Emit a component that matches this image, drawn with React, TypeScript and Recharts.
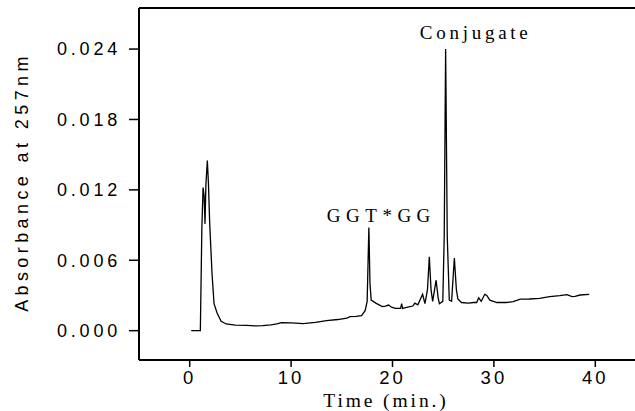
import React from 'react';
import { LineChart, Line, XAxis, YAxis, ReferenceLine, ReferenceDot } from 'recharts';

// retention time (min) and absorbance
const times = [
  0.15, 1.05, 1.2, 1.32, 1.42, 1.51, 1.6, 1.74, 1.85, 1.97, 2.2, 2.4, 2.7, 3.1, 3.6, 4.5,
  5.6, 6.5, 7.2, 8.0, 8.6, 9.05, 10.0, 11.2, 12.4, 13.5, 14.6, 15.5, 15.8, 16.4, 16.95,
  17.3, 17.5, 17.67, 17.78, 17.9, 18.4, 19.0, 19.3, 19.6, 19.9, 20.3, 20.8, 20.9, 21.0,
  21.5, 22.0, 22.2, 22.5, 22.97, 23.2, 23.45, 23.63, 23.8, 23.96, 24.3, 24.5, 24.63,
  24.96, 25.1, 25.24, 25.4, 25.6, 25.83, 26.1, 26.3, 26.45, 26.8, 27.5, 28.0, 28.3, 28.5,
  28.75, 29.1, 29.3, 29.6, 30.3, 31.2, 31.9, 32.6, 33.5, 34.5, 35.5, 36.5, 37.2, 37.7,
  38.0, 38.5, 39.4,
];
const absorbance = [
  0, 0, 0.0088, 0.0122, 0.0115, 0.0091, 0.0125, 0.0145, 0.0125, 0.0092, 0.0049, 0.0023,
  0.0015, 0.0008, 0.00057, 0.00048, 0.00045, 0.0004, 0.00043, 0.0005, 0.00057, 0.00068,
  0.00066, 0.0006, 0.0007, 0.00085, 0.00095, 0.00106, 0.0012, 0.00122, 0.00128, 0.0017,
  0.0025, 0.0088, 0.004, 0.0026, 0.00233, 0.00205, 0.0021, 0.00218, 0.002, 0.0019, 0.0019,
  0.0023, 0.0019, 0.002, 0.0021, 0.00235, 0.0022, 0.0031, 0.0023, 0.0035, 0.0063, 0.0035,
  0.0025, 0.0043, 0.0028, 0.0023, 0.0025, 0.008, 0.024, 0.008, 0.0026, 0.0025, 0.0062,
  0.0035, 0.0027, 0.0024, 0.00235, 0.0024, 0.0024, 0.0028, 0.0025, 0.0031, 0.003, 0.0026,
  0.0024, 0.0024, 0.00247, 0.00268, 0.0027, 0.00276, 0.0029, 0.00298, 0.00307, 0.0029,
  0.00293, 0.00304, 0.0031,
];

const xTicks = [0, 10, 20, 30, 40];
const yTicks = [0, 0.006, 0.012, 0.018, 0.024];

const peakLabels = [
  { t: 18.9, a: 0.00926, text: 'GGT*GG', spacing: 5.5 },
  { t: 28.2, a: 0.02486, text: 'Conjugate', spacing: 3.75 },
];

const data = times.map((t, i) => ({ t, a: absorbance[i] }));

const serif = '"Liberation Serif", "Times New Roman", serif';
const sans = '"Liberation Sans", Arial, sans-serif';

const YTitle = () => (
  <text
    x={28}
    y={182}
    transform="rotate(-90 28 182)"
    textAnchor="middle"
    fontFamily={sans}
    fontSize={18}
    letterSpacing={4.4}
    fill="#000"
  >
    Absorbance at 257nm
  </text>
);

const XTitle = () => (
  <text x={386} y={407} textAnchor="middle" fontFamily={serif} fontSize={19.5} letterSpacing={2.9} fill="#000">
    Time (min.)
  </text>
);

export default function App() {
  return (
    <div style={{ position: 'absolute', left: 0, top: 0, width: 635, height: 411, overflow: 'hidden', background: '#fff' }}>
      <LineChart width={646} height={411} data={data} margin={{ top: 8, right: 0, bottom: 0, left: 0 }}>
        <XAxis
          dataKey="t"
          type="number"
          domain={[-5, 45]}
          ticks={xTicks}
          allowDataOverflow
          height={51}
          tickSize={7}
          tickMargin={4}
          axisLine={{ stroke: '#000', strokeWidth: 2 }}
          tickLine={{ stroke: '#000', strokeWidth: 1.5 }}
          tick={{ fill: '#000', fontSize: 18.5, fontFamily: sans, letterSpacing: 3 }}
          label={<XTitle />}
        />
        <YAxis
          type="number"
          domain={[-0.0025, 0.0275]}
          ticks={yTicks}
          allowDataOverflow
          width={139}
          tickSize={10}
          tickMargin={8}
          tickFormatter={(v: number) => v.toFixed(3)}
          axisLine={{ stroke: '#000', strokeWidth: 2 }}
          tickLine={{ stroke: '#000', strokeWidth: 1.5 }}
          tick={{ fill: '#000', fontSize: 18, fontFamily: sans, letterSpacing: 3.8 }}
          label={<YTitle />}
        />
        <ReferenceLine y={0.0275} stroke="#000" strokeWidth={2} />
        {peakLabels.map((p) => (
          <ReferenceDot
            key={p.text}
            x={p.t}
            y={p.a}
            r={0}
            shape={(props: any) => (
              <text
                x={props.cx}
                y={props.cy}
                textAnchor="middle"
                fontFamily={serif}
                fontSize={19}
                letterSpacing={p.spacing}
                fill="#000"
              >
                {p.text}
              </text>
            )}
          />
        ))}
        <Line
          type="linear"
          dataKey="a"
          stroke="#000"
          strokeWidth={1.3}
          dot={false}
          isAnimationActive={false}
        />
      </LineChart>
    </div>
  );
}
